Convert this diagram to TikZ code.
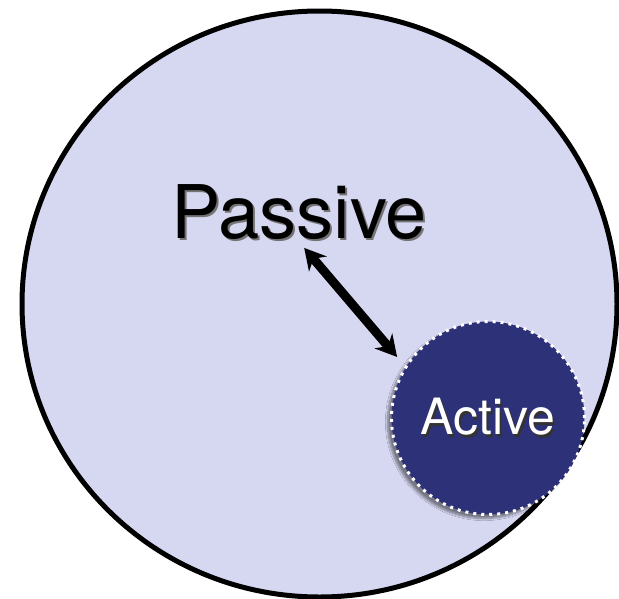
\documentclass[tikz,border=0pt]{standalone}
\usepackage{fontspec}
\setmainfont{TeX Gyre Heros}
\usepackage{tikz}
\usetikzlibrary{arrows.meta,positioning,calc,shadows.blur}
\definecolor{paleblue}{HTML}{D6D7F1}
\definecolor{navy}{HTML}{2C3178}
\newcommand{\shtext}[3]{\rlap{\hspace{2pt}\raisebox{-2.5pt}{\textcolor{#1}{#3}}}\textcolor{#2}{#3}}

\begin{document}
\begin{tikzpicture}[x=1pt,y=-1pt,
 world/.style={draw=black,line width=5pt,fill=paleblue},
 link/.style={line width=9pt,{Stealth[length=21pt,width=23pt]}-{Stealth[length=21pt,width=23pt]}},
 act/.style={circle,fill=navy,draw=white,line width=3pt,dash pattern=on 3pt off 5pt,
  minimum size=193pt,inner sep=0pt,font=\fontsize{50}{50}\selectfont,
  blur shadow={shadow xshift=-4pt,shadow yshift=-4pt,shadow blur steps=8,shadow opacity=45}},
 pas/.style={inner sep=0pt,anchor=base,font=\fontsize{74}{74}\selectfont}]
\useasboundingbox (0,0) rectangle (619,598);
\begin{scope}
\clip (0,0) rectangle (619,598);
\draw[world] (319.5,304) ellipse [x radius=297.5,y radius=293];
\end{scope}
\node[pas] (passive) at (299,238) {\shtext{black!55}{black}{Passive}};
\node[act] (active) at (488,418) {\shtext{black!80}{white}{Active}};
\draw[link,shorten <=8pt,shorten >=12pt] (passive.south) -- (active.148);
\end{tikzpicture}
\end{document}
